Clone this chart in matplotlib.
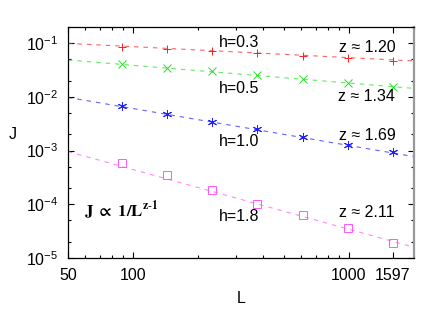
import matplotlib
matplotlib.use("Agg")
import matplotlib.pyplot as plt
from matplotlib.ticker import FixedLocator, FixedFormatter, LogLocator, NullFormatter

plt.rcParams['font.family'] = ['Liberation Sans', 'DejaVu Sans']
plt.rcParams['mathtext.fontset'] = 'custom'
plt.rcParams['mathtext.rm'] = 'Liberation Sans'
plt.rcParams['mathtext.it'] = 'Liberation Sans:italic'
plt.rcParams['mathtext.bf'] = 'Liberation Sans:bold'

# system sizes (Fibonacci) and currents
L = [89, 144, 233, 377, 610, 987, 1597]
J_h03 = [0.085, 0.078, 0.0715, 0.0646, 0.0568, 0.052, 0.0472]
J_h05 = [0.0415, 0.0344, 0.0298, 0.0251, 0.0211, 0.0178, 0.0152]
J_h10 = [0.00682, 0.00478, 0.00339, 0.00247, 0.00178, 0.00126, 0.00092]
J_h18 = [5.82e-4, 3.52e-4, 1.83e-4, 1.03e-4, 6.23e-5, 3.57e-5, 1.92e-5]

# power-law fit lines (end points)
L_fit = [50, 2000]
fit_h03 = [0.099, 0.0466]
fit_h05 = [0.0486, 0.01435]
fit_h10 = [0.00975, 7.7e-4]
fit_h18 = [9.57e-4, 1.58e-5]

h_labels = ['h=0.3', 'h=0.5', 'h=1.0', 'h=1.8']
z_labels = ['z \u2248 1.20', 'z \u2248 1.34', 'z \u2248 1.69', 'z \u2248 2.11']

x_ticks = [50, 100, 1000, 1597]
y_ticks = [1e-5, 1e-4, 1e-3, 1e-2, 1e-1]
y_ticklabels = [r'$10^{-5}$', r'$10^{-4}$', r'$10^{-3}$', r'$10^{-2}$', r'$10^{-1}$']

fig = plt.figure(figsize=(4.43, 3.10), dpi=100)
ax = fig.add_axes([0.1535, 0.168, 0.781, 0.745])

series = [
    (J_h03, fit_h03, '#ff2020', '+', 6),
    (J_h05, fit_h05, '#22e022', 'x', 5.5),
    (J_h10, fit_h10, '#2020ff', (6, 2, 0), 6.5),
    (J_h18, fit_h18, '#ff55ff', 's', 5.5),
]
for J, fit, col, mk, ms in series:
    ax.plot(L_fit, fit, color=col, lw=0.8, alpha=0.7, dashes=(4, 4.5))
    ax.plot(L, J, linestyle='none', marker=mk, ms=ms, mec=col,
            mfc='none', mew=0.7, color=col)
    if mk == (6, 2, 0):
        ax.plot(L, J, linestyle='none', marker='.', ms=2.5, color=col)

ax.set_xscale('log')
ax.set_yscale('log')
ax.set_xlim(50, 2000)
ax.set_ylim(1e-5, 0.2)

ax.xaxis.set_major_locator(FixedLocator(x_ticks))
ax.xaxis.set_major_formatter(FixedFormatter([str(t) for t in x_ticks]))
ax.xaxis.set_minor_locator(LogLocator(base=10, subs=(2, 3, 4, 5, 6, 7, 8, 9)))
ax.xaxis.set_minor_formatter(NullFormatter())
ax.yaxis.set_major_locator(FixedLocator(y_ticks))
ax.yaxis.set_major_formatter(FixedFormatter(y_ticklabels))
ax.yaxis.set_minor_locator(LogLocator(base=10, subs=(2, 5)))
ax.yaxis.set_minor_formatter(NullFormatter())

ax.tick_params(which='both', direction='in', top=True, right=True, labelsize=11.5, width=0.8)
ax.tick_params(which='major', length=4, pad=7)
ax.tick_params(which='minor', length=2.5)
for s in ['left', 'bottom', 'top']:
    ax.spines[s].set_linewidth(0.9)
ax.spines['right'].set_color('#999999')
ax.spines['right'].set_linewidth(1.6)

ax.set_xlabel('L', fontsize=11.5, labelpad=6)
ax.set_ylabel('J', fontsize=11.5, rotation=0, labelpad=14)
ax.yaxis.set_label_coords(-0.16, 0.5)

h_y = [0.931, 0.732, 0.502, 0.179]
z_y = [0.909, 0.697, 0.532, 0.195]
for txt, yy in zip(h_labels, h_y):
    ax.text(0.494, yy, txt, transform=ax.transAxes, ha='center', va='center', fontsize=11.5)
for txt, yy in zip(z_labels, z_y):
    ax.text(0.864, yy, txt, transform=ax.transAxes, ha='center', va='center', fontsize=11.5)

ax.text(0.155, 0.205, r'$\mathbf{J\ \propto\ 1/L^{z\text{-}1}}$', transform=ax.transAxes,
        ha='center', va='center', fontsize=12, math_fontfamily='stix')

fig.savefig('out.png', dpi=100)
